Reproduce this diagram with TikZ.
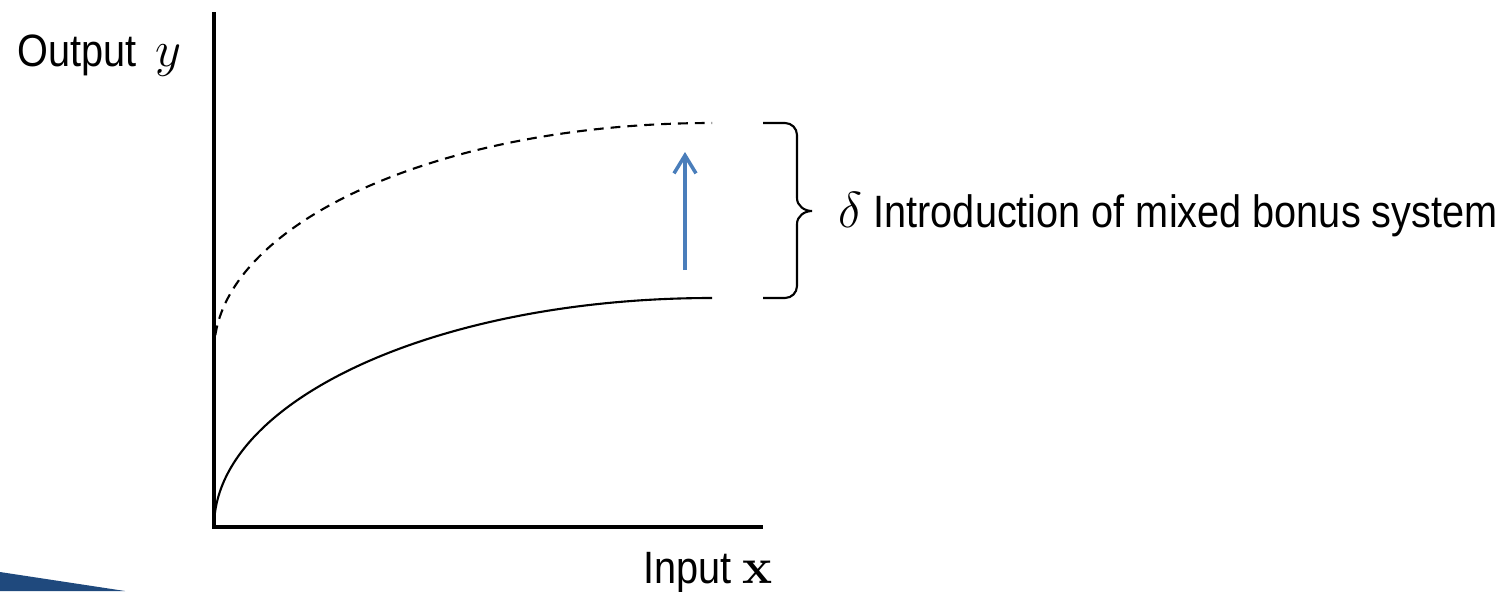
\documentclass[tikz,border=0pt]{standalone}
\usepackage[no-math]{fontspec}
\setmainfont{Liberation Sans}[FakeStretch=0.875]
\usepackage{tikz}
\usetikzlibrary{arrows.meta}

\definecolor{arrowblue}{RGB}{74,126,187}
\definecolor{logoblue}{RGB}{31,73,125}
\newcommand\mth[1]{{\fontsize{15}{18}\selectfont$#1$}}

\begin{document}
\begin{tikzpicture}[
  x=0.1mm, y=-0.1mm,
  axis/.style={line width=0.95pt},
  base/.style={line width=0.6pt},
  shifted/.style={line width=0.6pt, dash pattern=on 2.8pt off 2pt},
  ar/.style={-{Straight Barb[length=1.8mm,width=2.2mm]}, draw=arrowblue, line width=1pt},
  brc/.style={line width=0.6pt},
  lbl/.style={font=\fontsize{12.9}{15}\selectfont, inner sep=0pt, anchor=base west}
]
\useasboundingbox (0,0) rectangle (1505,591);

% axes
\coordinate (o) at (214,527);
\coordinate (ytop) at (214,12);
\coordinate (xend) at (763,527);
\draw[axis] (ytop) -- (o) -- (xend);

% output curves
\coordinate (d0) at (214,352);
\draw[base] (o) arc[start angle=180, end angle=270, x radius=498, y radius=229];
\draw[shifted] (d0) arc[start angle=180, end angle=270, x radius=498, y radius=229];

% shift arrow
\coordinate (a0) at (685,270);
\coordinate (a1) at (685,152);
\draw[ar] (a0) -- (a1);

% brace
\coordinate (btop) at (763,123);
\coordinate (btip) at (812,211);
\coordinate (bbot) at (763,298);
\draw[brc] (btop) -- (785,123) to[out=0,in=90] (797,135) -- (797,198)
  to[out=-90,in=180] (btip) to[out=180,in=90] (797,224) -- (797,286)
  to[out=-90,in=0] (785,298) -- (bbot);

% labels
\node[lbl] (ylab) at (17,66) {Output \,\mth{y}};
\node[lbl] (xlab) at (643,583) {Input \mth{\mathbf{x}}};
\node[lbl] (dlab) at (838,227) {\mth{\delta} Introduction of mixed bonus system};

% corner of slide logo
\fill[logoblue] (0,572) -- (125,591) -- (0,591) -- cycle;
\end{tikzpicture}
\end{document}
